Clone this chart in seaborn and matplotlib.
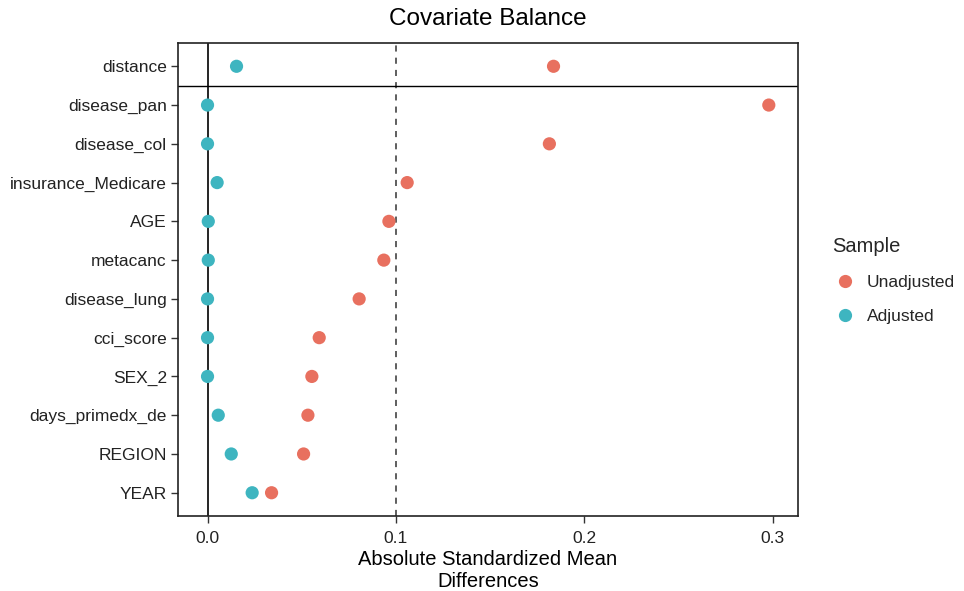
import matplotlib
matplotlib.use("Agg")
import matplotlib.pyplot as plt
import seaborn as sns
import pandas as pd
from matplotlib.lines import Line2D

covariates = ["distance", "disease_pan", "disease_col", "insurance_Medicare", "AGE",
              "metacanc", "disease_lung", "cci_score", "SEX_2", "days_primedx_de",
              "REGION", "YEAR"]
unadjusted = [0.1837, 0.2980, 0.1815, 0.1060, 0.0963, 0.0936, 0.0805, 0.0593,
              0.0554, 0.0533, 0.0510, 0.0340]
adjusted = [0.0154, 0.0000, 0.0000, 0.0051, 0.0004, 0.0004, 0.0000, 0.0000,
            0.0000, 0.0057, 0.0126, 0.0237]
samples = ["Unadjusted", "Adjusted"]
colors = {"Unadjusted": "#E8705F", "Adjusted": "#3EB5C0"}
xticks = [0.0, 0.1, 0.2, 0.3]

df = pd.DataFrame({
    "Covariate": covariates * 2,
    "value": unadjusted + adjusted,
    "Sample": ["Unadjusted"] * len(covariates) + ["Adjusted"] * len(covariates),
})

sns.set_style("white")
plt.rcParams["font.family"] = ["Liberation Sans", "DejaVu Sans"]

fig = plt.figure(figsize=(9.64, 5.91), dpi=100)
ax = fig.add_axes([0.1846, 0.1269, 0.8278 - 0.1846, 0.9272 - 0.1269])

ax.axvline(0, color="black", lw=1.2, zorder=1)
ax.axvline(0.1, color="#333333", lw=1.1, ls=(0, (4, 4)), zorder=1)
ax.axhline(0.5, color="black", lw=1.0, zorder=1)

sns.stripplot(data=df, x="value", y="Covariate", hue="Sample", order=covariates,
              hue_order=samples, palette=colors, jitter=False, dodge=False,
              size=9.5, linewidth=0, ax=ax, legend=False, zorder=3)

ax.set_xlim(-0.0157, 0.3135)
ax.set_ylim(11.6, -0.6)
ax.set_xticks(xticks)
ax.set_xticklabels([f"{t:.1f}" for t in xticks])
ax.tick_params(axis="both", which="both", direction="out", length=5, width=1,
               color="#333333", labelsize=12.5, labelcolor="#222222", pad=3,
               left=True, bottom=True)
ax.tick_params(axis="x", pad=6)
for s in ax.spines.values():
    s.set_color("#222222")
    s.set_linewidth(1.2)

ax.set_ylabel("")
ax.set_xlabel("Absolute Standardized Mean\nDifferences", fontsize=14.5,
              color="black", linespacing=1.2, labelpad=3)
ax.set_title("Covariate Balance", fontsize=17.5, color="black", pad=13)

handles = [Line2D([0], [0], marker="o", color="none", markerfacecolor=colors[s],
                  markeredgewidth=0, markersize=9.5, label=s) for s in samples]
leg = fig.legend(handles=handles, title="Sample", loc="upper left",
                 bbox_to_anchor=(0.847, 0.626), frameon=False, fontsize=12.5,
                 title_fontsize=14.5, handletextpad=0.5, labelspacing=1.05,
                 handlelength=1.5)
leg._legend_box.align = "left"
leg._legend_box.sep = 14

fig.savefig("out.png", dpi=100)
